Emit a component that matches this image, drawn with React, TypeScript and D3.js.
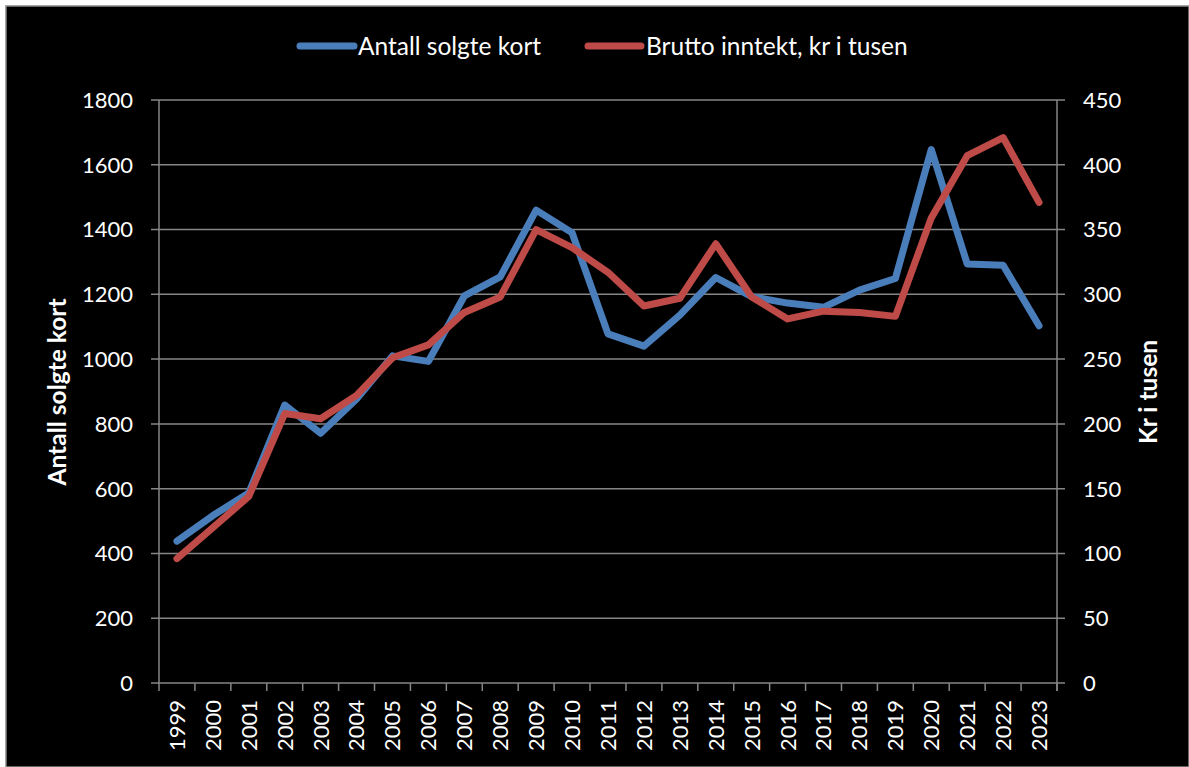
import React from 'react';
import * as d3 from 'd3';

const years = [
  '1999', '2000', '2001', '2002', '2003', '2004', '2005', '2006', '2007',
  '2008', '2009', '2010', '2011', '2012', '2013', '2014', '2015', '2016',
  '2017', '2018', '2019', '2020', '2021', '2022', '2023',
];

// Antall solgte kort (left axis)
const soldCards = [
  438, 517, 587, 858, 771, 877, 1010, 993, 1195, 1254, 1460, 1390, 1078,
  1040, 1136, 1252, 1193, 1173, 1160, 1213, 1249, 1647, 1294, 1290, 1103,
];

// Brutto inntekt, kr i tusen (right axis)
const grossIncome = [
  96, 120, 144, 208, 204, 222, 251, 261, 286, 298, 350, 336, 317,
  291, 297, 339, 298, 281, 287, 286, 283, 359, 407, 421, 371,
];

const leftTicks = [0, 200, 400, 600, 800, 1000, 1200, 1400, 1600, 1800];
const rightTicks = [0, 50, 100, 150, 200, 250, 300, 350, 400, 450];

const W = 1189;
const H = 767;
const FONT = 'Lato, "Open Sans", sans-serif';
const BLUE = '#4a7ebb';
const RED = '#be4b48';
const GRID = '#868686';

const plot = { left: 159, right: 1057, top: 100, bottom: 683 };

const App = () => {
  const x = d3
    .scaleBand<string>()
    .domain(years)
    .range([plot.left, plot.right]);

  const yLeft = d3
    .scaleLinear()
    .domain([0, 1800])
    .range([plot.bottom, plot.top]);

  const yRight = d3
    .scaleLinear()
    .domain([0, 450])
    .range([plot.bottom, plot.top]);

  const cx = (i: number) => (x(years[i]) as number) + x.bandwidth() / 2;

  const blueLine = d3
    .line<number>()
    .x((_, i) => cx(i))
    .y(d => yLeft(d));

  const redLine = d3
    .line<number>()
    .x((_, i) => cx(i))
    .y(d => yRight(d));

  const boundaries = years.map(y => x(y) as number).concat(plot.right);

  return (
    <svg
      width={W}
      height={H}
      style={{ position: 'absolute', left: 0, top: 0 }}
      fontFamily={FONT}
    >
      <rect x={0} y={0} width={W} height={H} fill="#fff" />
      <rect x={6} y={6} width={W - 6} height={H - 6} fill="#000" stroke="#888" strokeWidth={1.5} />

      {/* gridlines + left ticks */}
      {leftTicks.map(t => (
        <line
          key={'g' + t}
          x1={plot.left - 8}
          x2={plot.right + 8}
          y1={yLeft(t)}
          y2={yLeft(t)}
          stroke={GRID}
          strokeWidth={1.5}
        />
      ))}
      <line x1={plot.left} x2={plot.left} y1={plot.top} y2={plot.bottom} stroke={GRID} strokeWidth={1.5} />
      <line x1={plot.right} x2={plot.right} y1={plot.top} y2={plot.bottom + 8} stroke={GRID} strokeWidth={1.5} />
      {boundaries.map((b, i) => (
        <line key={'xt' + i} x1={b} x2={b} y1={plot.bottom} y2={plot.bottom + 8} stroke={GRID} strokeWidth={1.5} />
      ))}

      {/* left tick labels */}
      {leftTicks.map(t => (
        <text key={'l' + t} x={133} y={yLeft(t)} dy="0.36em" textAnchor="end" fill="#fff" fontSize={22}>
          {t}
        </text>
      ))}
      {/* right tick labels */}
      {rightTicks.map(t => (
        <text key={'r' + t} x={1083} y={yRight(t)} dy="0.36em" textAnchor="start" fill="#fff" fontSize={22}>
          {t}
        </text>
      ))}
      {/* x labels */}
      {years.map((yr, i) => (
        <text
          key={'x' + yr}
          transform={`translate(${cx(i)},${plot.bottom + 17}) rotate(-90)`}
          dy="0.36em"
          textAnchor="end"
          fill="#fff"
          fontSize={22}
        >
          {yr}
        </text>
      ))}

      {/* axis titles */}
      <text
        transform="translate(57,392) rotate(-90)"
        dy="0.36em"
        textAnchor="middle"
        fill="#fff"
        fontSize={24.5}
        fontWeight="bold"
      >
        Antall solgte kort
      </text>
      <text
        transform="translate(1148,392) rotate(-90)"
        dy="0.36em"
        textAnchor="middle"
        fill="#fff"
        fontSize={24.5}
        fontWeight="bold"
      >
        Kr i tusen
      </text>

      {/* series */}
      <path d={blueLine(soldCards) ?? ''} fill="none" stroke={BLUE} strokeWidth={7} strokeLinejoin="round" strokeLinecap="round" />
      <path d={redLine(grossIncome) ?? ''} fill="none" stroke={RED} strokeWidth={7} strokeLinejoin="round" strokeLinecap="round" />

      {/* legend */}
      <line x1={300} x2={354} y1={46} y2={46} stroke={BLUE} strokeWidth={7} strokeLinecap="round" />
      <text x={358} y={46} dy="0.36em" fill="#fff" fontSize={24.5}>
        Antall solgte kort
      </text>
      <line x1={588} x2={641} y1={46} y2={46} stroke={RED} strokeWidth={7} strokeLinecap="round" />
      <text x={646} y={46} dy="0.36em" fill="#fff" fontSize={24.5}>
        Brutto inntekt, kr i tusen
      </text>
    </svg>
  );
};

export default App;
